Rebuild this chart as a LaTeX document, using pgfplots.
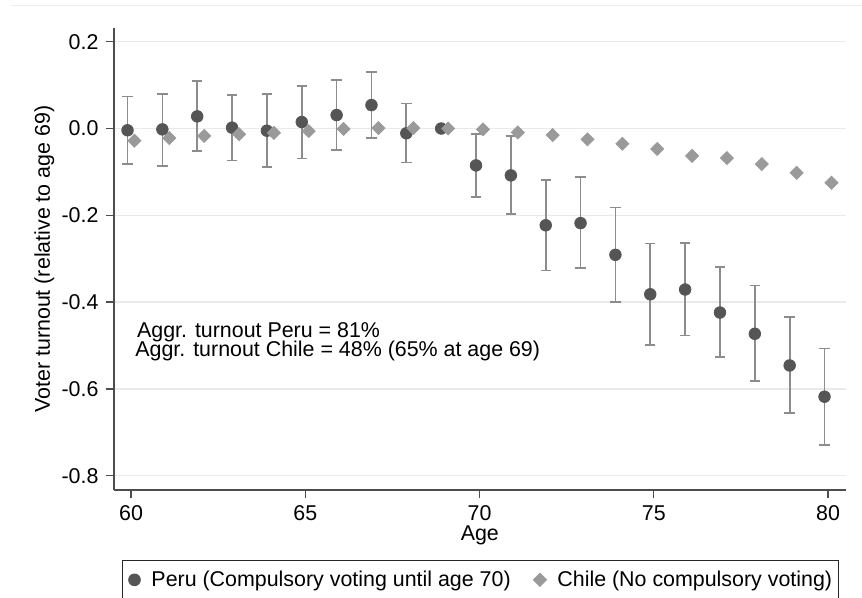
\documentclass[border=0pt]{standalone}
\usepackage{fontspec}
\setmainfont{Liberation Sans}
\usepackage{pgfplots}
\pgfplotsset{compat=1.18}
\usepackage{pgfplotstable}
\definecolor{perudot}{HTML}{555555}
\definecolor{errgray}{HTML}{8C8C8C}
\definecolor{chiledot}{HTML}{9A9A9A}
\definecolor{gridgray}{HTML}{EAEAEA}
\definecolor{axisgray}{HTML}{4D4D4D}

\pgfplotstableread{
age y lo hi
60 -0.004 -0.082 0.074
61 -0.002 -0.086 0.080
62 0.028 -0.052 0.109
63 0.002 -0.074 0.078
64 -0.005 -0.088 0.079
65 0.015 -0.069 0.098
66 0.031 -0.049 0.112
67 0.054 -0.022 0.131
68 -0.011 -0.078 0.058
69 0.000 0.000 0.000
70 -0.085 -0.157 -0.013
71 -0.108 -0.197 -0.018
72 -0.223 -0.327 -0.118
73 -0.218 -0.322 -0.111
74 -0.291 -0.400 -0.182
75 -0.382 -0.499 -0.265
76 -0.371 -0.477 -0.264
77 -0.424 -0.527 -0.319
78 -0.473 -0.582 -0.362
79 -0.546 -0.655 -0.435
80 -0.618 -0.729 -0.507
}\peru

\pgfplotstableread{
age y lo hi
60 -0.028 -0.030 -0.026
61 -0.022 -0.024 -0.020
62 -0.017 -0.019 -0.015
63 -0.013 -0.015 -0.011
64 -0.010 -0.012 -0.008
65 -0.006 -0.008 -0.004
66 -0.001 -0.003 0.001
67 0.001 -0.001 0.003
68 0.001 -0.001 0.003
69 0.000 0.000 0.000
70 -0.002 -0.004 0.000
71 -0.009 -0.011 -0.007
72 -0.015 -0.017 -0.013
73 -0.025 -0.027 -0.023
74 -0.035 -0.037 -0.033
75 -0.047 -0.049 -0.045
76 -0.063 -0.065 -0.061
77 -0.068 -0.070 -0.066
78 -0.082 -0.084 -0.080
79 -0.102 -0.104 -0.100
80 -0.125 -0.127 -0.123
}\chile

\begin{document}
\fontsize{10.7}{12.8}\selectfont
\begin{tikzpicture}
\draw[color=black!7, line width=0.6pt] (5.5pt,296.35pt) -- (431pt,296.35pt);
\begin{axis}[
  at={(57pt,54pt)}, anchor=south west,
  scale only axis, width=365.85pt, height=230.85pt,
  xmin=59.512, xmax=80.508, ymin=-0.833, ymax=0.231,
  axis lines*=left,
  axis line style={-, axisgray, line width=0.7pt},
  tick align=outside, major tick length=4pt,
  tick style={axisgray, line width=0.7pt},
  xtick={60,65,70,75,80}, xticklabels={60,65,70,75,80},
  ytick={-0.8,-0.6,-0.4,-0.2,0,0.2},
  yticklabels={-0.8,-0.6,-0.4,-0.2,0.0,0.2},
  ymajorgrids, major grid style={gridgray, line width=0.75pt},
  xlabel={Age}, ylabel={Voter turnout (relative to age 69)},
  xlabel style={at={(axis description cs:0.5,-0.1098)}, anchor=base},
  ylabel style={at={(axis description cs:-0.0875,0.5)}, anchor=base},
  legend columns=2,
  legend style={at={(axis description cs:0.01093,-0.1527)}, anchor=north west,
    draw=black!85, line width=0.5pt, fill=white,
    inner xsep=3pt, inner ysep=4.75pt, nodes={inner sep=0pt},
    /tikz/every odd column/.append style={column sep=5.5pt},
    /tikz/every even column/.append style={column sep=11.35pt}},
  legend image code/.code={\path[draw=none, fill=none] (-3pt,-3pt) rectangle (3pt,3pt); \draw[#1] plot coordinates {(0pt,0pt)};},
]
\addplot[only marks, mark=none, forget plot,
  error bars/.cd, y dir=both, y explicit,
  error bar style={errgray, line width=0.85pt},
  error mark options={rotate=90, errgray, mark size=2.6pt, line width=0.85pt}]
  table[x expr=\thisrow{age}-0.1, y=y,
        y error plus expr=\thisrow{hi}-\thisrow{y},
        y error minus expr=\thisrow{y}-\thisrow{lo}] {\peru};
\addplot[only marks, mark=none, forget plot,
  error bars/.cd, y dir=both, y explicit,
  error bar style={errgray, line width=0.6pt},
  error mark options={rotate=90, black!55, mark size=2.4pt, line width=0.6pt}]
  table[x expr=\thisrow{age}+0.1, y=y,
        y error plus expr=\thisrow{hi}-\thisrow{y},
        y error minus expr=\thisrow{y}-\thisrow{lo}] {\chile};
\addplot[only marks, mark=*, mark size=2.9pt, color=perudot,
  mark options={fill=perudot, draw=perudot}]
  table[x expr=\thisrow{age}-0.1, y=y] {\peru};
\addlegendentry{Peru (Compulsory voting until age 70)}
\addplot[only marks, mark=square*, mark size=2.3pt, color=chiledot,
  mark options={rotate=45, fill=chiledot, draw=chiledot}]
  table[x expr=\thisrow{age}+0.1, y=y] {\chile};
\addlegendentry{Chile (No compulsory voting)}
\node[anchor=base west, inner sep=0pt] at (axis cs:60.164,-0.4814) {Aggr. turnout Peru = 81\%};
\node[anchor=base west, inner sep=0pt] at (axis cs:60.115,-0.5264) {Aggr. turnout Chile = 48\% (65\% at age 69)};
\end{axis}
\pgfresetboundingbox
\path[use as bounding box] (0,0) rectangle (431pt,299pt);
\end{tikzpicture}
\end{document}
